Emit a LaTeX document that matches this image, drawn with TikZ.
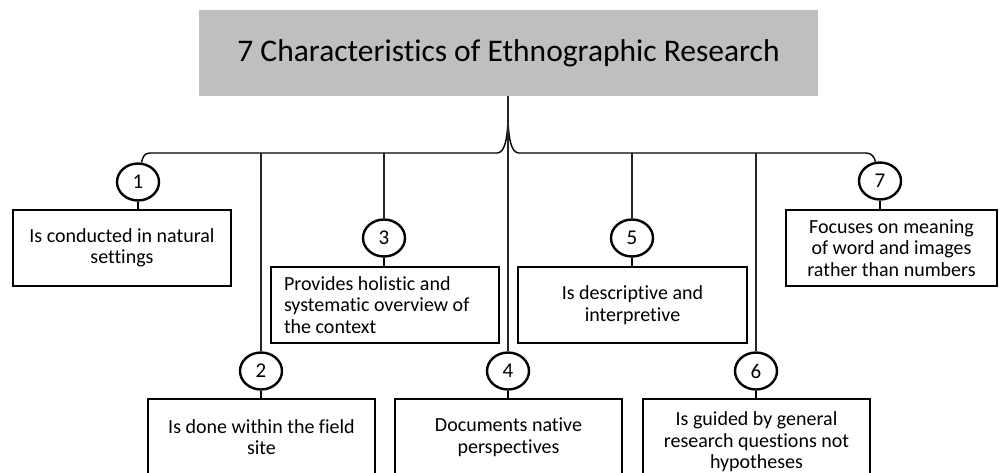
\documentclass[tikz,border=0pt]{standalone}
\usepackage{fontspec}
\setmainfont{Carlito}[Ligatures=NoCommon]
\usetikzlibrary{shapes.geometric}
\definecolor{titlegray}{RGB}{191,191,191}

\begin{document}
\begin{tikzpicture}[x=1pt,y=-1pt,
  card/.style={draw=black, line width=2.6pt, minimum height=76pt, inner sep=2pt,
               align=center, font=\fontsize{20}{21.5}\selectfont},
  num/.style={draw=black, line width=2.4pt, ellipse, minimum width=42pt,
              minimum height=37pt, inner sep=0pt, font=\fontsize{21}{22}\selectfont},
  link/.style={draw=black, line width=1.4pt},
  stem/.style={draw=black!85, line width=1.6pt}
]
\useasboundingbox (0,0) rectangle (999,472);
\clip (0,0) rectangle (999,472);

% heading
\node[fill=titlegray, minimum width=619pt, minimum height=86pt, inner sep=0pt,
      font=\fontsize{31.5}{36}\selectfont] (title) at (508.5,53)
      {7 Characteristics of Ethnographic Research};

% numbered markers
\node[num] (c1) at (138,182) {1};
\node[num] (c2) at (261,371) {2};
\node[num] (c3) at (384,238) {3};
\node[num] (c4) at (508,371) {4};
\node[num] (c5) at (632,238) {5};
\node[num] (c6) at (756,371) {6};
\node[num] (c7) at (880,181) {7};

% characteristic boxes
\node[card, minimum width=218pt] (b1) at (122,248) {Is conducted in natural\\settings};
\node[card, minimum width=227pt] (b2) at (261.5,437) {Is done within the field\\site};
\node[card, align=flush left, text width=202pt, inner xsep=13pt, inner ysep=2pt] (b3) at (385,305)
      {Provides holistic and\\systematic overview of\\the context};
\node[card, minimum width=227pt] (b4) at (508.5,437) {Documents native\\perspectives};
\node[card, minimum width=229pt] (b5) at (632.5,305) {Is descriptive and\\interpretive};
\node[card, minimum width=227pt, minimum height=86pt] (b6) at (756.5,442) {Is guided by general\\research questions not\\hypotheses};
\node[card, minimum width=211pt] (b7) at (891.5,248) {Focuses on meaning\\of word and images\\rather than numbers};

% brace under the heading
\coordinate (hub) at (508,112);
\coordinate (bar) at (0,153);
\draw[link] (c1.80) .. controls (143,157) and (144,153) .. (150,153) -- (497,153)
      .. controls (505,153) and (508,138) .. (hub);
\draw[link] (hub) .. controls (508,138) and (511,153) .. (519,153) -- (866,153)
      .. controls (872,153) and (874,157) .. (c7.103);

% drops from the bar and the heading
\draw[stem] (title.south -| c4) -- (c4.north);
\draw[stem] (c2 |- bar) -- (c2.north);
\draw[stem] (c3 |- bar) -- (c3.north);
\draw[stem] (c5 |- bar) -- (c5.north);
\draw[stem] (c6 |- bar) -- (c6.north);

% markers to boxes
\foreach \i in {1,...,7}{
  \draw[link] (c\i.south) -- (c\i.south |- b\i.north);
}
\end{tikzpicture}
\end{document}
